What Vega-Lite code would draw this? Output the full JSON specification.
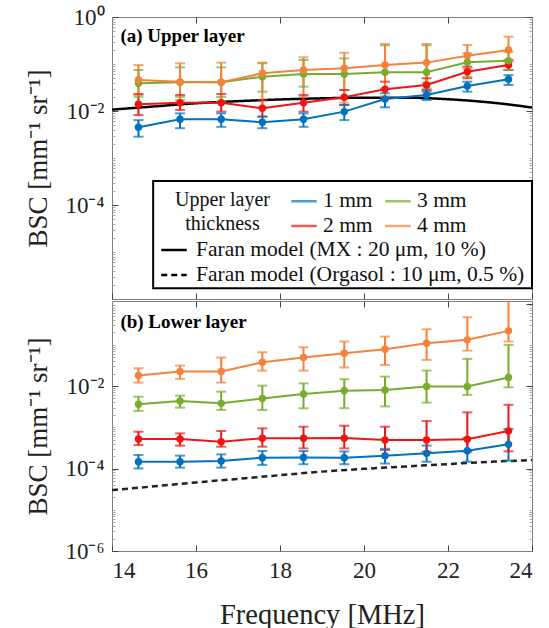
{
  "$schema": "https://vega.github.io/schema/vega-lite/v6.json",
  "autosize": {"type": "pad"},
  "padding": {"left": 24, "top": 5, "right": 5, "bottom": 5},
  "background": "white",
  "spacing": 0,
  "datasets": {
    "meas": [
      {"panel":"a","t":"1 mm","f":14.63,"v":0.0045,"lo":0.00284,"hi":0.0064},
      {"panel":"a","t":"1 mm","f":15.62,"v":0.00665,"lo":0.0043,"hi":0.0089},
      {"panel":"a","t":"1 mm","f":16.6,"v":0.00665,"lo":0.0046,"hi":0.0089},
      {"panel":"a","t":"1 mm","f":17.58,"v":0.00575,"lo":0.0043,"hi":0.0076},
      {"panel":"a","t":"1 mm","f":18.56,"v":0.00665,"lo":0.0046,"hi":0.0089},
      {"panel":"a","t":"1 mm","f":19.53,"v":0.0097,"lo":0.0064,"hi":0.0134},
      {"panel":"a","t":"1 mm","f":20.5,"v":0.018,"lo":0.012,"hi":0.0238},
      {"panel":"a","t":"1 mm","f":21.49,"v":0.0219,"lo":0.0171,"hi":0.028},
      {"panel":"a","t":"1 mm","f":22.46,"v":0.034,"lo":0.0258,"hi":0.042},
      {"panel":"a","t":"1 mm","f":23.44,"v":0.0472,"lo":0.0357,"hi":0.058},
      {"panel":"a","t":"2 mm","f":14.63,"v":0.0139,"lo":0.0082,"hi":0.023},
      {"panel":"a","t":"2 mm","f":15.62,"v":0.015,"lo":0.0105,"hi":0.0219},
      {"panel":"a","t":"2 mm","f":16.6,"v":0.015,"lo":0.0097,"hi":0.023},
      {"panel":"a","t":"2 mm","f":17.58,"v":0.0114,"lo":0.0076,"hi":0.0171},
      {"panel":"a","t":"2 mm","f":18.56,"v":0.015,"lo":0.0097,"hi":0.0219},
      {"panel":"a","t":"2 mm","f":19.53,"v":0.0196,"lo":0.0134,"hi":0.028},
      {"panel":"a","t":"2 mm","f":20.5,"v":0.029,"lo":0.0201,"hi":0.042},
      {"panel":"a","t":"2 mm","f":21.49,"v":0.0357,"lo":0.0258,"hi":0.0497},
      {"panel":"a","t":"2 mm","f":22.46,"v":0.0686,"lo":0.0497,"hi":0.0877},
      {"panel":"a","t":"2 mm","f":23.44,"v":0.095,"lo":0.0745,"hi":0.1217},
      {"panel":"a","t":"3 mm","f":14.63,"v":0.0388,"lo":0.0201,"hi":0.0745},
      {"panel":"a","t":"3 mm","f":15.62,"v":0.0408,"lo":0.02,"hi":0.085},
      {"panel":"a","t":"3 mm","f":16.6,"v":0.0408,"lo":0.02,"hi":0.085},
      {"panel":"a","t":"3 mm","f":17.58,"v":0.0537,"lo":0.0258,"hi":0.1035},
      {"panel":"a","t":"3 mm","f":18.56,"v":0.0613,"lo":0.033,"hi":0.1217},
      {"panel":"a","t":"3 mm","f":19.53,"v":0.0613,"lo":0.028,"hi":0.132},
      {"panel":"a","t":"3 mm","f":20.5,"v":0.0666,"lo":0.03,"hi":0.25},
      {"panel":"a","t":"3 mm","f":21.49,"v":0.0666,"lo":0.03,"hi":0.25},
      {"panel":"a","t":"3 mm","f":22.46,"v":0.1087,"lo":0.0537,"hi":0.169},
      {"panel":"a","t":"3 mm","f":23.44,"v":0.1175,"lo":0.0745,"hi":0.183},
      {"panel":"a","t":"4 mm","f":14.63,"v":0.0457,"lo":0.022,"hi":0.095},
      {"panel":"a","t":"4 mm","f":15.62,"v":0.042,"lo":0.017,"hi":0.1035},
      {"panel":"a","t":"4 mm","f":16.6,"v":0.0408,"lo":0.0155,"hi":0.107},
      {"panel":"a","t":"4 mm","f":17.58,"v":0.0634,"lo":0.0115,"hi":0.107},
      {"panel":"a","t":"4 mm","f":18.56,"v":0.0745,"lo":0.02,"hi":0.139},
      {"panel":"a","t":"4 mm","f":19.53,"v":0.081,"lo":0.015,"hi":0.174},
      {"panel":"a","t":"4 mm","f":20.5,"v":0.095,"lo":0.02,"hi":0.267},
      {"panel":"a","t":"4 mm","f":21.49,"v":0.107,"lo":0.04,"hi":0.267},
      {"panel":"a","t":"4 mm","f":22.46,"v":0.15,"lo":0.08,"hi":0.254},
      {"panel":"a","t":"4 mm","f":23.44,"v":0.198,"lo":0.11,"hi":0.381},
      {"panel":"b","t":"1 mm","f":14.63,"v":0.000146,"lo":0.0001,"hi":0.000213},
      {"panel":"b","t":"1 mm","f":15.62,"v":0.000146,"lo":0.000105,"hi":0.000205},
      {"panel":"b","t":"1 mm","f":16.6,"v":0.000152,"lo":0.000105,"hi":0.00022},
      {"panel":"b","t":"1 mm","f":17.58,"v":0.000183,"lo":0.000122,"hi":0.000266},
      {"panel":"b","t":"1 mm","f":18.56,"v":0.000185,"lo":0.000127,"hi":0.000266},
      {"panel":"b","t":"1 mm","f":19.53,"v":0.000183,"lo":0.000127,"hi":0.00026},
      {"panel":"b","t":"1 mm","f":20.5,"v":0.000205,"lo":0.000132,"hi":0.0003},
      {"panel":"b","t":"1 mm","f":21.49,"v":0.000233,"lo":0.000146,"hi":0.00036},
      {"panel":"b","t":"1 mm","f":22.46,"v":0.00027,"lo":0.000146,"hi":0.00055},
      {"panel":"b","t":"1 mm","f":23.44,"v":0.000385,"lo":0.000155,"hi":0.0009},
      {"panel":"b","t":"2 mm","f":14.63,"v":0.00052,"lo":0.00037,"hi":0.00078},
      {"panel":"b","t":"2 mm","f":15.62,"v":0.00052,"lo":0.000357,"hi":0.00071},
      {"panel":"b","t":"2 mm","f":16.6,"v":0.000447,"lo":0.000338,"hi":0.00081},
      {"panel":"b","t":"2 mm","f":17.58,"v":0.00054,"lo":0.000338,"hi":0.00094},
      {"panel":"b","t":"2 mm","f":18.56,"v":0.00054,"lo":0.000308,"hi":0.00103},
      {"panel":"b","t":"2 mm","f":19.53,"v":0.000545,"lo":0.000308,"hi":0.00109},
      {"panel":"b","t":"2 mm","f":20.5,"v":0.00049,"lo":0.000281,"hi":0.00103},
      {"panel":"b","t":"2 mm","f":21.49,"v":0.00049,"lo":0.000256,"hi":0.00142},
      {"panel":"b","t":"2 mm","f":22.46,"v":0.00051,"lo":0.000256,"hi":0.0023},
      {"panel":"b","t":"2 mm","f":23.44,"v":0.00081,"lo":0.00026,"hi":0.0035},
      {"panel":"b","t":"3 mm","f":14.63,"v":0.0036,"lo":0.00249,"hi":0.0055},
      {"panel":"b","t":"3 mm","f":15.62,"v":0.00435,"lo":0.00299,"hi":0.00585},
      {"panel":"b","t":"3 mm","f":16.6,"v":0.0038,"lo":0.00263,"hi":0.0073},
      {"panel":"b","t":"3 mm","f":17.58,"v":0.005,"lo":0.00263,"hi":0.0102},
      {"panel":"b","t":"3 mm","f":18.56,"v":0.0064,"lo":0.00288,"hi":0.0116},
      {"panel":"b","t":"3 mm","f":19.53,"v":0.0077,"lo":0.0029,"hi":0.0146},
      {"panel":"b","t":"3 mm","f":20.5,"v":0.008,"lo":0.0032,"hi":0.0169},
      {"panel":"b","t":"3 mm","f":21.49,"v":0.0097,"lo":0.00395,"hi":0.0237},
      {"panel":"b","t":"3 mm","f":22.46,"v":0.0097,"lo":0.0061,"hi":0.0455},
      {"panel":"b","t":"3 mm","f":23.44,"v":0.016,"lo":0.0093,"hi":0.0995},
      {"panel":"b","t":"4 mm","f":14.63,"v":0.0179,"lo":0.0121,"hi":0.0269},
      {"panel":"b","t":"4 mm","f":15.62,"v":0.0224,"lo":0.0149,"hi":0.0313},
      {"panel":"b","t":"4 mm","f":16.6,"v":0.0224,"lo":0.0121,"hi":0.0489},
      {"panel":"b","t":"4 mm","f":17.58,"v":0.0377,"lo":0.0236,"hi":0.0659},
      {"panel":"b","t":"4 mm","f":18.56,"v":0.0489,"lo":0.0236,"hi":0.087},
      {"panel":"b","t":"4 mm","f":19.53,"v":0.0622,"lo":0.028,"hi":0.12},
      {"panel":"b","t":"4 mm","f":20.5,"v":0.0778,"lo":0.0325,"hi":0.158},
      {"panel":"b","t":"4 mm","f":21.49,"v":0.109,"lo":0.043,"hi":0.238},
      {"panel":"b","t":"4 mm","f":22.46,"v":0.1315,"lo":0.072,"hi":0.465},
      {"panel":"b","t":"4 mm","f":23.44,"v":0.217,"lo":0.12,"hi":1.1}
    ],
    "model": [
      {"panel":"a","model":"Faran model (MX : 20 μm, 10 %)","f":14,"v":0.0107},
      {"panel":"a","model":"Faran model (MX : 20 μm, 10 %)","f":15,"v":0.0125},
      {"panel":"a","model":"Faran model (MX : 20 μm, 10 %)","f":16,"v":0.0146},
      {"panel":"a","model":"Faran model (MX : 20 μm, 10 %)","f":17,"v":0.0162},
      {"panel":"a","model":"Faran model (MX : 20 μm, 10 %)","f":18,"v":0.0176},
      {"panel":"a","model":"Faran model (MX : 20 μm, 10 %)","f":19,"v":0.0186},
      {"panel":"a","model":"Faran model (MX : 20 μm, 10 %)","f":20,"v":0.0192},
      {"panel":"a","model":"Faran model (MX : 20 μm, 10 %)","f":21,"v":0.0192},
      {"panel":"a","model":"Faran model (MX : 20 μm, 10 %)","f":22,"v":0.0178},
      {"panel":"a","model":"Faran model (MX : 20 μm, 10 %)","f":23,"v":0.0152},
      {"panel":"a","model":"Faran model (MX : 20 μm, 10 %)","f":23.5,"v":0.0136},
      {"panel":"a","model":"Faran model (MX : 20 μm, 10 %)","f":24,"v":0.0118},
      {"panel":"b","model":"Faran model (Orgasol : 10 μm, 0.5 %)","f":14,"v":0.00003},
      {"panel":"b","model":"Faran model (Orgasol : 10 μm, 0.5 %)","f":15,"v":0.000037},
      {"panel":"b","model":"Faran model (Orgasol : 10 μm, 0.5 %)","f":16,"v":0.000046},
      {"panel":"b","model":"Faran model (Orgasol : 10 μm, 0.5 %)","f":17,"v":0.000056},
      {"panel":"b","model":"Faran model (Orgasol : 10 μm, 0.5 %)","f":18,"v":0.000069},
      {"panel":"b","model":"Faran model (Orgasol : 10 μm, 0.5 %)","f":19,"v":0.000084},
      {"panel":"b","model":"Faran model (Orgasol : 10 μm, 0.5 %)","f":20,"v":0.000098},
      {"panel":"b","model":"Faran model (Orgasol : 10 μm, 0.5 %)","f":21,"v":0.000112},
      {"panel":"b","model":"Faran model (Orgasol : 10 μm, 0.5 %)","f":22,"v":0.000128},
      {"panel":"b","model":"Faran model (Orgasol : 10 μm, 0.5 %)","f":23,"v":0.000145},
      {"panel":"b","model":"Faran model (Orgasol : 10 μm, 0.5 %)","f":24,"v":0.00016}
    ]
  },
  "vconcat": [
    {
      "width": 420,
      "height": 282,
      "resolve": {"axis": {"x": "independent", "y": "independent"}},
      "layer": [
        {
          "data": {"values": [{}]},
          "mark": {"type": "rect", "fill": "white", "stroke": "black", "strokeWidth": 2},
          "encoding": {
            "x": {"datum": 14.98, "type": "quantitative", "scale": {"domain": [14, 24], "nice": false, "zero": false}, "axis": null},
            "x2": {"datum": 24},
            "y": {"datum": 0.000324, "type": "quantitative", "scale": {"type": "log", "domain": [0.000001, 1], "nice": false}, "axis": null},
            "y2": {"datum": 0.0000017}
          }
        },
        {
          "data": {"values": [{}]},
          "mark": {"type": "text", "text": ["Upper layer", "thickness"], "font": "Liberation Serif", "fontSize": 20, "lineHeight": 24, "align": "center", "baseline": "middle", "color": "#111"},
          "encoding": {
            "x": {"datum": 16.63, "type": "quantitative", "axis": null},
            "y": {"datum": 0.000125, "type": "quantitative", "axis": null}
          }
        },
        {
          "data": {"name": "model"},
          "transform": [{"filter": "datum.panel == 'a'"}],
          "mark": {"type": "line", "color": "black", "strokeWidth": 2.5, "interpolate": "monotone", "clip": true},
          "encoding": {
            "x": {"field": "f", "type": "quantitative", "scale": {"domain": [14, 24], "nice": false, "zero": false},
                  "axis": {"orient": "bottom", "values": [14, 16, 18, 20, 22, 24], "labels": false, "title": null}},
            "y": {"field": "v", "type": "quantitative", "scale": {"type": "log", "domain": [0.000001, 1], "nice": false},
                  "axis": {"orient": "left", "values": [1, 0.01, 0.0001], "labelExpr": "round(log(datum.value)/LN10) == 0 ? '10⁰' : round(log(datum.value)/LN10) == -2 ? '10⁻²' : '10⁻⁴'", "title": "BSC [mm⁻¹ sr⁻¹]", "titlePadding": 12}},
            "strokeDash": {"field": "model", "type": "nominal",
                  "scale": {"domain": ["Faran model (MX : 20 μm, 10 %)", "Faran model (Orgasol : 10 μm, 0.5 %)"], "range": [[1, 0], [6, 4]]},
                  "legend": {"orient": "none", "legendX": 48, "legendY": 219, "title": null, "direction": "vertical", "symbolType": "stroke", "symbolSize": 650, "symbolStrokeColor": "black", "symbolStrokeWidth": 2.5, "labelOffset": 8, "rowPadding": -2, "labelFontSize": 21.5}}
          }
        },
        {
          "data": {"name": "meas"},
          "transform": [{"filter": "datum.panel == 'a'"}],
          "mark": {"type": "rule", "strokeWidth": 2},
          "encoding": {
            "x": {"field": "f", "type": "quantitative", "axis": null},
            "y": {"field": "lo", "type": "quantitative", "axis": {"orient": "right", "values": [1, 0.01, 0.0001], "labels": false, "title": null}},
            "y2": {"field": "hi"},
            "color": {"field": "t", "type": "nominal", "scale": {"domain": ["1 mm", "3 mm", "2 mm", "4 mm"], "range": ["#0072BD", "#77AC30", "#F01414", "#F5823C"]}}
          }
        },
        {
          "data": {"name": "meas"},
          "transform": [{"filter": "datum.panel == 'a'"}],
          "mark": {"type": "tick", "orient": "horizontal", "thickness": 2, "size": 10},
          "encoding": {
            "x": {"field": "f", "type": "quantitative", "axis": null},
            "y": {"field": "lo", "type": "quantitative", "axis": null},
            "color": {"field": "t", "type": "nominal", "scale": {"domain": ["1 mm", "3 mm", "2 mm", "4 mm"], "range": ["#0072BD", "#77AC30", "#F01414", "#F5823C"]}}
          }
        },
        {
          "data": {"name": "meas"},
          "transform": [{"filter": "datum.panel == 'a'"}],
          "mark": {"type": "tick", "orient": "horizontal", "thickness": 2, "size": 10},
          "encoding": {
            "x": {"field": "f", "type": "quantitative", "axis": null},
            "y": {"field": "hi", "type": "quantitative", "axis": {"orient": "right", "values": [0.000002,0.000003,0.000004,0.000005,0.000006,0.000007,0.000008,0.000009,0.00001,0.00002,0.00003,0.00004,0.00005,0.00006,0.00007,0.00008,0.00009,0.0002,0.0003,0.0004,0.0005,0.0006,0.0007,0.0008,0.0009,0.001,0.002,0.003,0.004,0.005,0.006,0.007,0.008,0.009,0.02,0.03,0.04,0.05,0.06,0.07,0.08,0.09,0.1,0.2,0.3,0.4,0.5,0.6,0.7,0.8,0.9], "labels": false, "title": null, "tickSize": -3, "tickColor": "#aaa"}},
            "color": {"field": "t", "type": "nominal", "scale": {"domain": ["1 mm", "3 mm", "2 mm", "4 mm"], "range": ["#0072BD", "#77AC30", "#F01414", "#F5823C"]}}
          }
        },
        {
          "data": {"name": "meas"},
          "transform": [{"filter": "datum.panel == 'a'"}],
          "mark": {"type": "line", "strokeWidth": 2},
          "encoding": {
            "x": {"field": "f", "type": "quantitative", "axis": {"orient": "top", "values": [16, 18, 20, 22], "labels": false, "title": null}},
            "y": {"field": "v", "type": "quantitative", "axis": null},
            "color": {"field": "t", "type": "nominal",
                      "scale": {"domain": ["1 mm", "3 mm", "2 mm", "4 mm"], "range": ["#0072BD", "#77AC30", "#F01414", "#F5823C"]},
                      "legend": {"orient": "none", "legendX": 178, "legendY": 170, "direction": "horizontal", "columns": 2, "title": null, "symbolType": "stroke", "symbolSize": 650, "symbolStrokeWidth": 2.5, "symbolFillColor": "transparent", "labelOffset": 5, "columnPadding": 7, "rowPadding": -1, "labelFontSize": 21.5}}
          }
        },
        {
          "data": {"name": "meas"},
          "transform": [{"filter": "datum.panel == 'a'"}],
          "mark": {"type": "point", "filled": true, "size": 55, "opacity": 1},
          "encoding": {
            "x": {"field": "f", "type": "quantitative", "axis": null},
            "y": {"field": "v", "type": "quantitative", "axis": {"orient": "left", "values": [0.000002,0.000003,0.000004,0.000005,0.000006,0.000007,0.000008,0.000009,0.00001,0.00002,0.00003,0.00004,0.00005,0.00006,0.00007,0.00008,0.00009,0.0002,0.0003,0.0004,0.0005,0.0006,0.0007,0.0008,0.0009,0.001,0.002,0.003,0.004,0.005,0.006,0.007,0.008,0.009,0.02,0.03,0.04,0.05,0.06,0.07,0.08,0.09,0.1,0.2,0.3,0.4,0.5,0.6,0.7,0.8,0.9], "labels": false, "title": null, "tickSize": -3, "tickColor": "#aaa"}},
            "color": {"field": "t", "type": "nominal", "scale": {"domain": ["1 mm", "3 mm", "2 mm", "4 mm"], "range": ["#0072BD", "#77AC30", "#F01414", "#F5823C"]}}
          }
        },
        {
          "data": {"values": [{}]},
          "mark": {"type": "text", "text": "(a) Upper layer", "font": "Liberation Serif", "fontWeight": "bold", "fontSize": 19, "align": "left", "baseline": "alphabetic", "color": "black"},
          "encoding": {
            "x": {"datum": 14.2, "type": "quantitative", "axis": null},
            "y": {"datum": 0.3, "type": "quantitative", "axis": null}
          }
        }
      ]
    },
    {
      "width": 420,
      "height": 250,
      "resolve": {"axis": {"x": "independent", "y": "independent"}},
      "layer": [
        {
          "data": {"name": "model"},
          "transform": [{"filter": "datum.panel == 'b'"}],
          "mark": {"type": "line", "color": "#222", "strokeWidth": 2.5, "interpolate": "monotone", "clip": true},
          "encoding": {
            "x": {"field": "f", "type": "quantitative", "scale": {"domain": [14, 24], "nice": false, "zero": false},
                  "axis": {"orient": "bottom", "values": [14, 16, 18, 20, 22, 24], "title": "Frequency [MHz]", "titlePadding": 18, "titleFontSize": 28.5}},
            "y": {"field": "v", "type": "quantitative", "scale": {"type": "log", "domain": [0.000001, 1.15], "nice": false},
                  "axis": {"orient": "left", "values": [0.01, 0.0001, 0.000001], "labelExpr": "round(log(datum.value)/LN10) == -2 ? '10⁻²' : round(log(datum.value)/LN10) == -4 ? '10⁻⁴' : '10⁻⁶'", "title": "BSC [mm⁻¹ sr⁻¹]", "titlePadding": 12}},
            "strokeDash": {"field": "model", "type": "nominal",
                  "scale": {"domain": ["Faran model (MX : 20 μm, 10 %)", "Faran model (Orgasol : 10 μm, 0.5 %)"], "range": [[1, 0], [6, 4]]},
                  "legend": {"orient": "none", "legendX": 48, "legendY": 219, "title": null, "direction": "vertical", "symbolType": "stroke", "symbolSize": 650, "symbolStrokeColor": "black", "symbolStrokeWidth": 2.5, "labelOffset": 8, "rowPadding": -2, "labelFontSize": 21.5}}
          }
        },
        {
          "data": {"name": "meas"},
          "transform": [{"filter": "datum.panel == 'b'"}],
          "mark": {"type": "rule", "strokeWidth": 2, "clip": true},
          "encoding": {
            "x": {"field": "f", "type": "quantitative", "axis": null},
            "y": {"field": "lo", "type": "quantitative", "axis": {"orient": "right", "values": [1, 0.01, 0.0001], "labels": false, "title": null}},
            "y2": {"field": "hi"},
            "color": {"field": "t", "type": "nominal", "scale": {"domain": ["1 mm", "3 mm", "2 mm", "4 mm"], "range": ["#0072BD", "#77AC30", "#F01414", "#F5823C"]}}
          }
        },
        {
          "data": {"name": "meas"},
          "transform": [{"filter": "datum.panel == 'b'"}],
          "mark": {"type": "tick", "orient": "horizontal", "thickness": 2, "size": 10},
          "encoding": {
            "x": {"field": "f", "type": "quantitative", "axis": null},
            "y": {"field": "lo", "type": "quantitative", "axis": null},
            "color": {"field": "t", "type": "nominal", "scale": {"domain": ["1 mm", "3 mm", "2 mm", "4 mm"], "range": ["#0072BD", "#77AC30", "#F01414", "#F5823C"]}}
          }
        },
        {
          "data": {"name": "meas"},
          "transform": [{"filter": "datum.panel == 'b' && datum.hi < 1"}],
          "mark": {"type": "tick", "orient": "horizontal", "thickness": 2, "size": 10},
          "encoding": {
            "x": {"field": "f", "type": "quantitative", "axis": null},
            "y": {"field": "hi", "type": "quantitative", "axis": {"orient": "right", "values": [0.000002,0.000003,0.000004,0.000005,0.000006,0.000007,0.000008,0.000009,0.00001,0.00002,0.00003,0.00004,0.00005,0.00006,0.00007,0.00008,0.00009,0.0002,0.0003,0.0004,0.0005,0.0006,0.0007,0.0008,0.0009,0.001,0.002,0.003,0.004,0.005,0.006,0.007,0.008,0.009,0.02,0.03,0.04,0.05,0.06,0.07,0.08,0.09,0.1,0.2,0.3,0.4,0.5,0.6,0.7,0.8,0.9], "labels": false, "title": null, "tickSize": -3, "tickColor": "#aaa"}},
            "color": {"field": "t", "type": "nominal", "scale": {"domain": ["1 mm", "3 mm", "2 mm", "4 mm"], "range": ["#0072BD", "#77AC30", "#F01414", "#F5823C"]}}
          }
        },
        {
          "data": {"name": "meas"},
          "transform": [{"filter": "datum.panel == 'b'"}],
          "mark": {"type": "line", "strokeWidth": 2},
          "encoding": {
            "x": {"field": "f", "type": "quantitative", "axis": {"orient": "top", "values": [16, 18, 20, 22], "labels": false, "title": null}},
            "y": {"field": "v", "type": "quantitative", "axis": null},
            "color": {"field": "t", "type": "nominal",
                      "scale": {"domain": ["1 mm", "3 mm", "2 mm", "4 mm"], "range": ["#0072BD", "#77AC30", "#F01414", "#F5823C"]},
                      "legend": {"orient": "none", "legendX": 178, "legendY": 170, "direction": "horizontal", "columns": 2, "title": null, "symbolType": "stroke", "symbolSize": 650, "symbolStrokeWidth": 2.5, "symbolFillColor": "transparent", "labelOffset": 5, "columnPadding": 7, "rowPadding": -1, "labelFontSize": 21.5}}
          }
        },
        {
          "data": {"name": "meas"},
          "transform": [{"filter": "datum.panel == 'b'"}],
          "mark": {"type": "point", "filled": true, "size": 55, "opacity": 1},
          "encoding": {
            "x": {"field": "f", "type": "quantitative", "axis": null},
            "y": {"field": "v", "type": "quantitative", "axis": {"orient": "left", "values": [0.000002,0.000003,0.000004,0.000005,0.000006,0.000007,0.000008,0.000009,0.00001,0.00002,0.00003,0.00004,0.00005,0.00006,0.00007,0.00008,0.00009,0.0002,0.0003,0.0004,0.0005,0.0006,0.0007,0.0008,0.0009,0.001,0.002,0.003,0.004,0.005,0.006,0.007,0.008,0.009,0.02,0.03,0.04,0.05,0.06,0.07,0.08,0.09,0.1,0.2,0.3,0.4,0.5,0.6,0.7,0.8,0.9], "labels": false, "title": null, "tickSize": -3, "tickColor": "#aaa"}},
            "color": {"field": "t", "type": "nominal", "scale": {"domain": ["1 mm", "3 mm", "2 mm", "4 mm"], "range": ["#0072BD", "#77AC30", "#F01414", "#F5823C"]}}
          }
        },
        {
          "data": {"values": [{}]},
          "mark": {"type": "text", "text": "(b) Lower layer", "font": "Liberation Serif", "fontWeight": "bold", "fontSize": 19, "align": "left", "baseline": "alphabetic", "color": "black"},
          "encoding": {
            "x": {"datum": 14.2, "type": "quantitative", "axis": null},
            "y": {"datum": 0.26, "type": "quantitative", "axis": null}
          }
        }
      ]
    }
  ],
  "resolve": {"scale": {"x": "shared", "y": "independent", "color": "shared", "strokeDash": "shared"}},
  "config": {
    "font": "Liberation Serif",
    "view": {"stroke": "#7f7f7f", "strokeWidth": 1},
    "axis": {"domain": false, "grid": false, "ticks": true, "tickSize": -6, "tickColor": "#444", "tickWidth": 1,
             "labelFont": "Liberation Serif", "labelFontSize": 23, "labelColor": "#222", "labelPadding": 14,
             "titleFont": "Liberation Serif", "titleFontSize": 27, "titleFontWeight": "normal", "titleColor": "#222"},
    "legend": {"labelFont": "Liberation Serif", "labelFontSize": 20, "labelColor": "#111",
               "titleFont": "Liberation Serif", "titleFontSize": 20, "titleFontWeight": "normal", "titleColor": "#111",
               "padding": 0, "labelLimit": 400}
  }
}
